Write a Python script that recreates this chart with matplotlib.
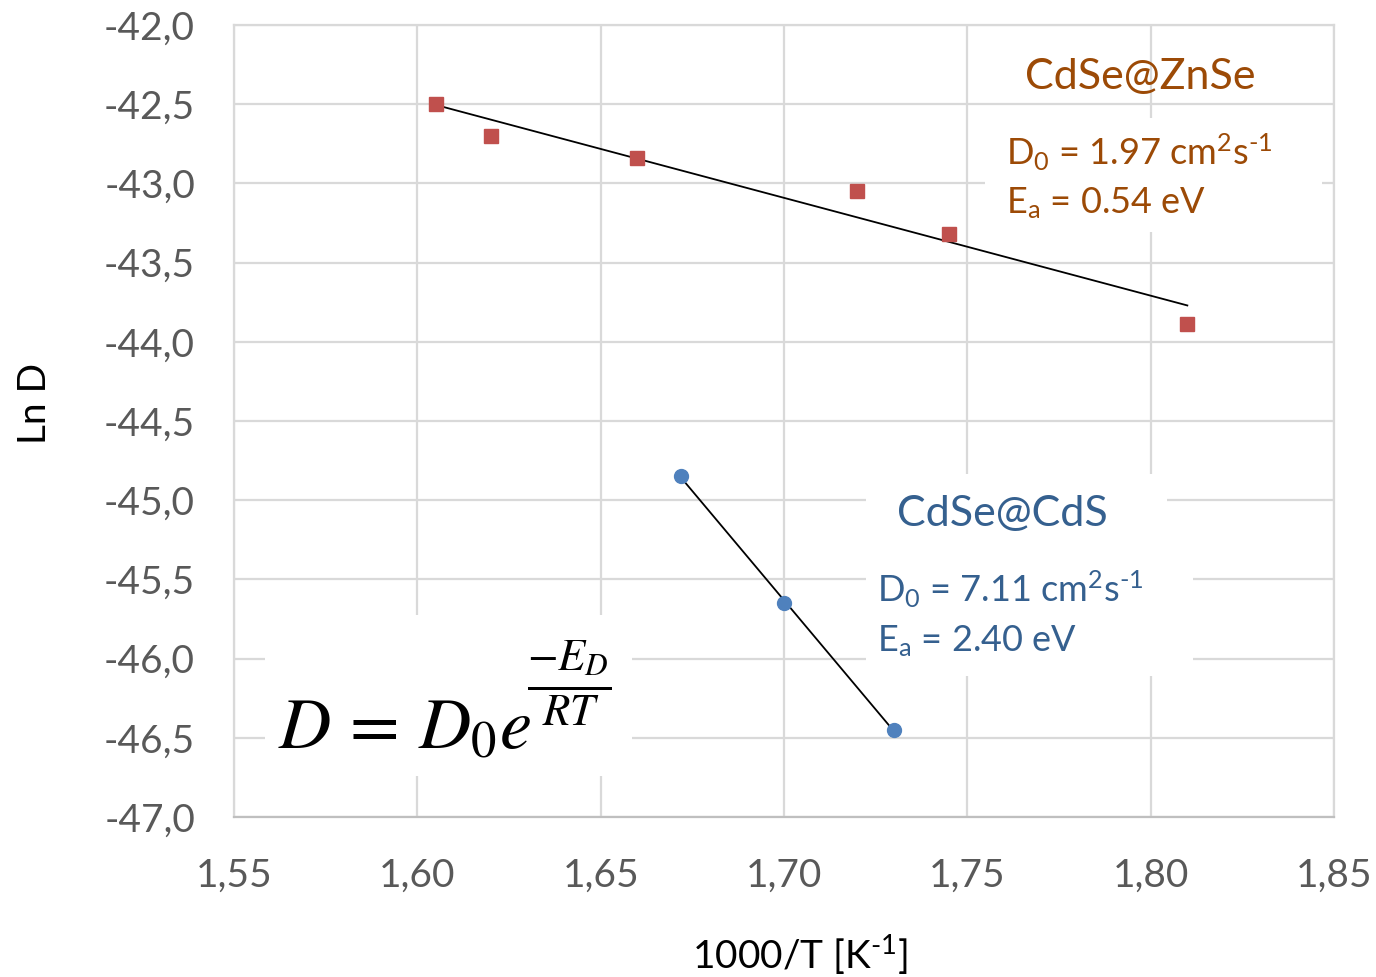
import numpy as np
import matplotlib
matplotlib.use("Agg")
import matplotlib.pyplot as plt
from matplotlib.patches import Rectangle

plt.rcParams['font.family'] = ['Lato', 'DejaVu Sans']
plt.rcParams['mathtext.fontset'] = 'custom'
plt.rcParams['mathtext.rm'] = 'Lato'
plt.rcParams['mathtext.it'] = 'Lato:italic'
plt.rcParams['mathtext.bf'] = 'Lato:bold'

# Arrhenius data: ln D versus 1000/T
x_znse = [1.605, 1.620, 1.660, 1.720, 1.745, 1.810]
y_znse = [-42.50, -42.70, -42.84, -43.05, -43.32, -43.89]
x_cds = [1.672, 1.700, 1.730]
y_cds = [-44.85, -45.65, -46.45]

x_ticks = [1.55, 1.60, 1.65, 1.70, 1.75, 1.80, 1.85]
y_ticks = [-42.0, -42.5, -43.0, -43.5, -44.0, -44.5, -45.0, -45.5, -46.0, -46.5, -47.0]

W, H = 1376, 977
fig = plt.figure(figsize=(W / 100, H / 100), dpi=100)
L, R, T, B = 234, 1334, 25, 817
ax = fig.add_axes([L / W, 1 - B / H, (R - L) / W, (B - T) / H])

grid_c = '#D9D9D9'
ax.set_xlim(1.55, 1.85)
ax.set_ylim(-47.0, -42.0)
ax.set_xticks(x_ticks)
ax.set_yticks(y_ticks)
ax.set_xticklabels([f"{v:.2f}".replace('.', ',') for v in x_ticks])
ax.set_yticklabels([f"{v:.1f}".replace('.', ',') for v in y_ticks])
ax.tick_params(length=0, labelsize=28, labelcolor='#595959')
ax.tick_params(axis='y', pad=28)
ax.tick_params(axis='x', pad=29)
ax.set_axisbelow(True)
ax.grid(True, color=grid_c, linewidth=1.6)
for s in ax.spines.values():
    s.set_color(grid_c)
    s.set_linewidth(1.6)
ax.spines['bottom'].set_color('#BFBFBF')

fig.text(35 / W, 1 - 403 / H, 'Ln D', fontsize=28, color='black',
         rotation=90, ha='center', va='center')
fig.text(800 / W, 1 - 955 / H, r'1000/T [K$^{\text{-1}}$]', fontsize=28,
         color='black', ha='center', va='center')


def px_box(x0, y0, x1, y1):
    ax.add_patch(Rectangle(((x0 - L) / (R - L), (B - y1) / (B - T)),
                           (x1 - x0) / (R - L), (y1 - y0) / (B - T),
                           transform=ax.transAxes, facecolor='white',
                           edgecolor='none', zorder=1.5, clip_on=False))


px_box(985, 118, 1322, 232)
px_box(866, 474, 1167, 548)
px_box(866, 548, 1193, 676)
px_box(265, 615, 632, 776)

# linear fits
for xs, ys in ((x_znse, y_znse), (x_cds, y_cds)):
    k, b = np.polyfit(xs, ys, 1)
    xx = np.array([min(xs), max(xs)])
    ax.plot(xx, k * xx + b, color='black', linewidth=1.3, zorder=2)

ax.plot(x_znse, y_znse, linestyle='none', marker='s', markersize=10,
        color='#C0504D', zorder=3)
ax.plot(x_cds, y_cds, linestyle='none', marker='o', markersize=10,
        color='#4F81BD', zorder=3)


def ptext(px, py, s, **kw):
    ax.text((px - L) / (R - L), (B - py) / (B - T), s, transform=ax.transAxes,
            zorder=4, **kw)


brown = '#9C4A06'
blue = '#35608F'
ptext(1025, 77, 'CdSe@ZnSe', fontsize=31, color=brown, va='center')
ptext(1006, 152, r'D$_0$ = 1.97 cm$^2$s$^{\text{-1}}$', fontsize=26, color=brown, va='center')
ptext(1006, 203, r'E$_\mathrm{a}$ = 0.54 eV', fontsize=26, color=brown, va='center')
ptext(897, 514, 'CdSe@CdS', fontsize=31, color=blue, va='center')
ptext(877, 589, r'D$_0$ = 7.11 cm$^2$s$^{\text{-1}}$', fontsize=26, color=blue, va='center')
ptext(877, 641, r'E$_\mathrm{a}$ = 2.40 eV', fontsize=26, color=blue, va='center')

# Arrhenius relation
ptext(278, 748, r'$D\,=\,D_0e$', fontsize=52, color='black', va='baseline',
      math_fontfamily='stix')
ptext(569, 683, r'$\frac{-E_D}{RT}$', fontsize=46, color='black', va='center',
      ha='center', math_fontfamily='stix')

fig.savefig('out.png', dpi=100)
